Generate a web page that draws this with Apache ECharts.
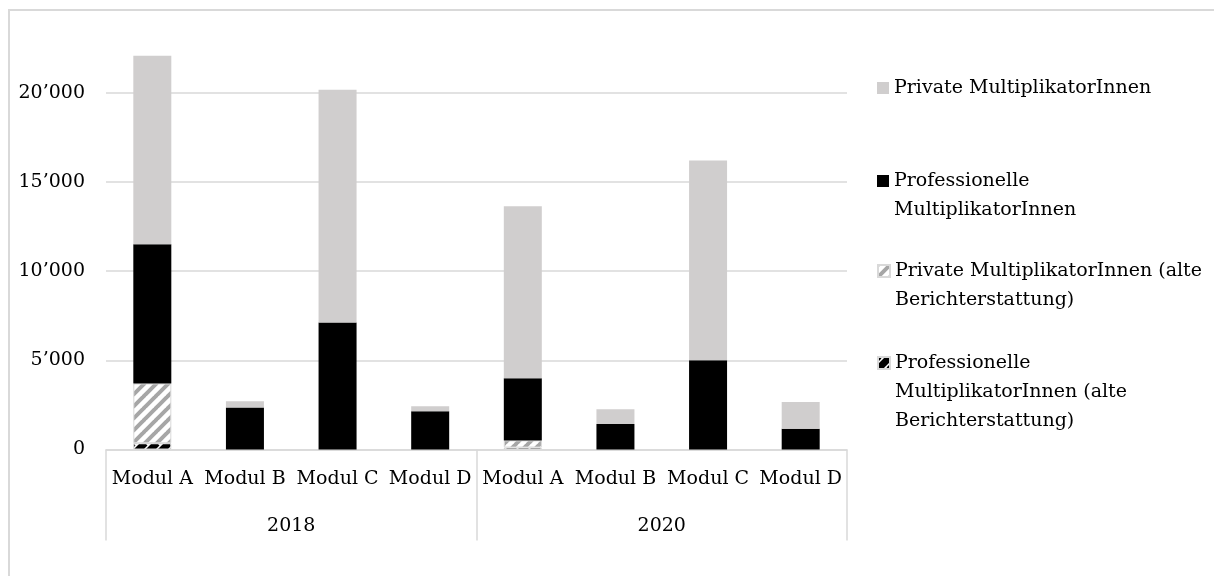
<!DOCTYPE html>
<html>
<head>
<meta charset="utf-8">
<script src="https://cdn.jsdelivr.net/npm/echarts@6/dist/echarts.min.js"></script>
<style>
  html, body { margin: 0; padding: 0; background: #ffffff; }
  #chart { width: 1214px; height: 576px; }
</style>
</head>
<body>
<div id="chart"></div>
<script>
// Categories: modules within each reporting year
const years = ['2018', '2020'];
const modules = ['Modul A', 'Modul B', 'Modul C', 'Modul D'];
const categories = years.flatMap(() => modules);

// Series values, one entry per module and year (2018 A–D, 2020 A–D)
const profAlt = [350, null, null, null, 110, null, null, null];
const privAlt = [3350, null, null, null, 400, null, null, null];
const prof    = [7800, 2360, 7120, 2150, 3490, 1430, 5000, 1160];
const priv    = [10570, 350, 13050, 280, 9630, 820, 11200, 1500];

// Value axis ticks
const yMin = 0, yMax = 25000, yStep = 5000;

const seriesNames = [
  'Professionelle MultiplikatorInnen (alte Berichterstattung)',
  'Private MultiplikatorInnen (alte Berichterstattung)',
  'Professionelle MultiplikatorInnen',
  'Private MultiplikatorInnen'
];

const FONT = 'DejaVu Serif';
const FS = 19;
const GREY = '#d0cece';
const LINE = '#d9d9d9';

// Diagonal hatching tiles
function hatch(bg, fg, size, width) {
  const c = document.createElement('canvas');
  c.width = size; c.height = size;
  const ctx = c.getContext('2d');
  ctx.fillStyle = bg;
  ctx.fillRect(0, 0, size, size);
  ctx.strokeStyle = fg;
  ctx.lineWidth = width;
  ctx.beginPath();
  for (let k = -1; k <= 1; k++) {
    ctx.moveTo(k * size - 1, size + 1);
    ctx.lineTo(k * size + size + 1, -1);
  }
  ctx.stroke();
  return { image: c, repeat: 'repeat' };
}

const patPrivAlt = hatch('#ffffff', '#a6a6a6', 12, 4);
const patProfAlt = hatch('#ffffff', '#000000', 12, 7);

const fmt = v => String(v).replace(/\B(?=(\d{3})+(?!\d))/g, '\u2019');

// Legend entries: the icon sits beside the first text line, so blank
// lines are put in front to keep the first real line on the icon's centre.
const LH = 29;
function legendAt(name, lines, iconCenterY) {
  const n = lines.length;
  const all = Array(n - 1).fill('\u00a0').concat(lines);
  const blockH = all.length * LH;
  return {
    data: [name],
    orient: 'vertical',
    left: 877,
    top: iconCenterY - blockH / 2,
    padding: 0,
    itemWidth: 12,
    itemHeight: 12,
    icon: 'rect',
    selectedMode: false,
    formatter: () => all.join('\n'),
    textStyle: { fontFamily: FONT, fontSize: FS, color: '#000', lineHeight: LH }
  };
}

const barBase = { type: 'bar', stack: 'total', barWidth: 38, xAxisIndex: 0 };

const option = {
  animation: false,
  backgroundColor: '#ffffff',
  graphic: [{
    type: 'rect',
    shape: { x: 9, y: 10, width: 1400, height: 800 },
    style: { fill: 'none', stroke: LINE, lineWidth: 2 },
    silent: true
  }],
  grid: { left: 106, right: 367, top: 3.5, bottom: 126.5, containLabel: false },
  legend: [
    legendAt(seriesNames[3], ['Private MultiplikatorInnen'], 88),
    legendAt(seriesNames[2], ['Professionelle', 'MultiplikatorInnen'], 181),
    legendAt(seriesNames[1], ['Private MultiplikatorInnen (alte', 'Berichterstattung)'], 271),
    legendAt(seriesNames[0], ['Professionelle', 'MultiplikatorInnen (alte', 'Berichterstattung)'], 363)
  ],
  xAxis: [
    {
      type: 'category',
      data: categories,
      position: 'bottom',
      axisLine: { show: true, lineStyle: { color: LINE, width: 1.5 } },
      axisTick: { show: false },
      axisLabel: { interval: 0, margin: 20, fontFamily: FONT, fontSize: FS, color: '#000' }
    },
    {
      type: 'category',
      data: years,
      position: 'bottom',
      offset: 0,
      axisLine: { show: false },
      axisTick: { show: true, length: 91, lineStyle: { color: LINE, width: 1.5 } },
      axisLabel: { margin: 67, fontFamily: FONT, fontSize: FS, color: '#000' }
    }
  ],
  yAxis: {
    type: 'value',
    min: yMin, max: yMax, interval: yStep,
    axisLine: { show: false },
    axisTick: { show: false },
    splitLine: { show: true, showMaxLine: false, lineStyle: { color: LINE, width: 1.5 } },
    axisLabel: {
      showMaxLabel: false, margin: 21, formatter: fmt,
      fontFamily: FONT, fontSize: FS, color: '#000'
    }
  },
  series: [
    Object.assign({}, barBase, {
      name: seriesNames[0], data: profAlt,
      itemStyle: { color: patProfAlt, borderColor: LINE, borderWidth: 1 }
    }),
    Object.assign({}, barBase, {
      name: seriesNames[1], data: privAlt,
      itemStyle: { color: patPrivAlt, borderColor: LINE, borderWidth: 1 }
    }),
    Object.assign({}, barBase, {
      name: seriesNames[2], data: prof,
      itemStyle: { color: '#000000' }
    }),
    Object.assign({}, barBase, {
      name: seriesNames[3], data: priv,
      itemStyle: { color: GREY }
    })
  ]
};

const chart = echarts.init(document.getElementById('chart'), null, { renderer: 'canvas' });
chart.setOption(option);
</script>
</body>
</html>
